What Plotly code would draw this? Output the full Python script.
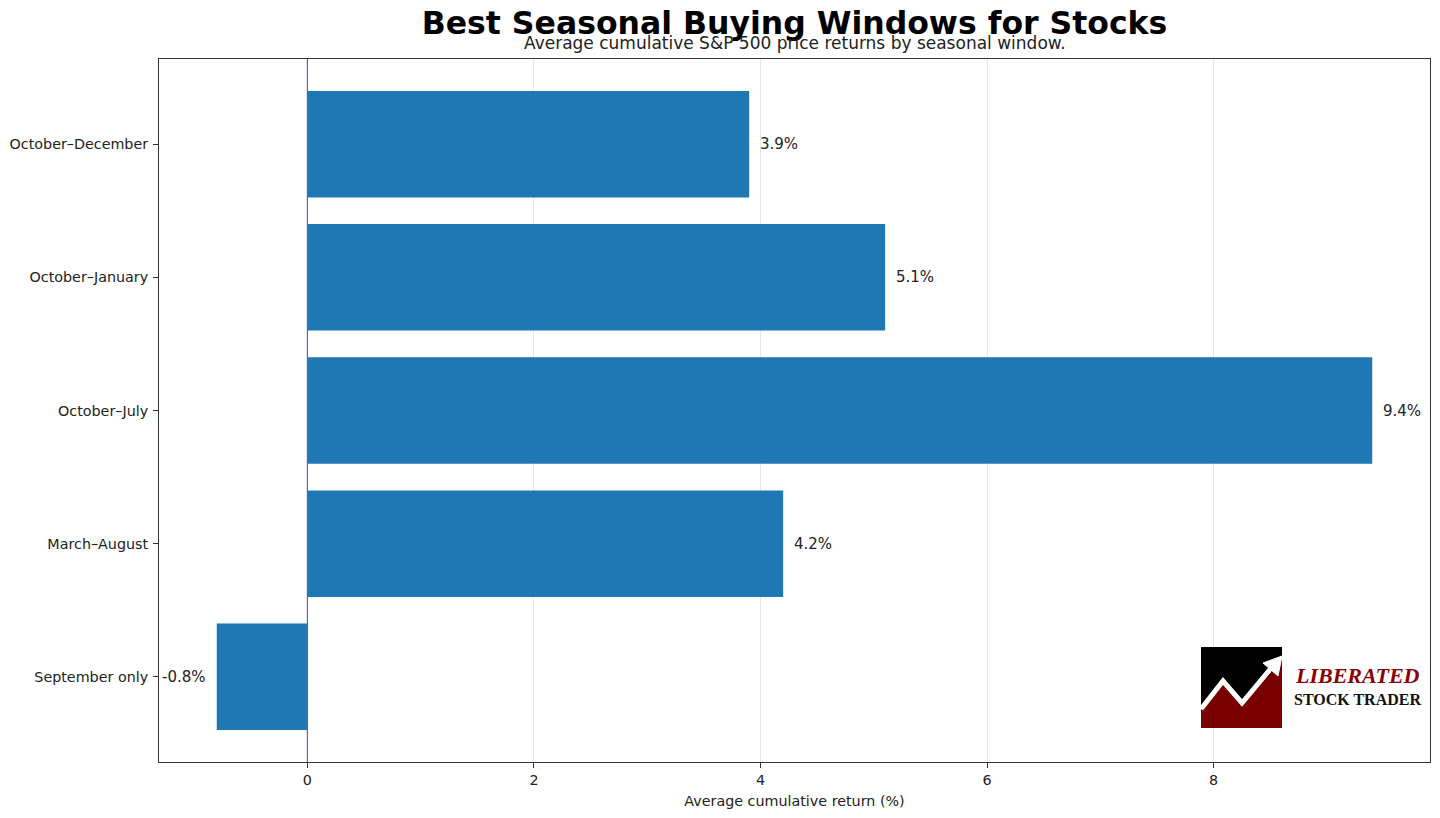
import plotly.graph_objects as go

categories = ["October–December", "October–January", "October–July", "March–August", "September only"]
returns = [3.9, 5.1, 9.4, 4.2, -0.8]
labels = [f"{v:.1f}%" for v in returns]
x_ticks = [0, 2, 4, 6, 8]

W, H = 1440, 818
ML, MR, MT, MB = 159, 10, 59, 56
PW, PH = W - ML - MR, H - MT - MB

def px(x):
    return (x - ML) / PW

def py(y):
    return 1 - (y - MT) / PH

BAR = "#1f77b4"
FONT = "DejaVu Sans, Verdana, sans-serif"

fig = go.Figure()
fig.add_trace(go.Bar(
    x=returns, y=categories, orientation="h",
    marker=dict(color=BAR, line=dict(width=0)),
    width=0.8, hoverinfo="x+y",
))

for c, v, t in zip(categories, returns, labels):
    fig.add_annotation(
        x=v, y=c, xref="x", yref="y", text=t, showarrow=False,
        xanchor="left" if v >= 0 else "right",
        xshift=9 if v >= 0 else -9,
        font=dict(size=15, color="#222222", family=FONT),
    )

# zero line
fig.add_shape(type="line", xref="x", yref="paper", x0=0, x1=0, y0=0, y1=1,
              line=dict(color="#3f74aa", width=1.2), layer="above")

# subtitle
fig.add_annotation(text="Average cumulative S&P 500 price returns by seasonal window.",
                   xref="paper", yref="paper", x=0.5, y=py(43), xanchor="center", yanchor="middle",
                   showarrow=False, font=dict(size=17, color="#222222", family=FONT))

# logo
fig.add_shape(type="rect", xref="paper", yref="paper",
              x0=px(1201), x1=px(1282), y0=py(728), y1=py(647),
              fillcolor="#000000", line=dict(width=0), layer="above")
red_pts = [(1201, 711), (1223, 683), (1242, 705), (1282, 661), (1282, 728), (1201, 728)]
path = "M " + " L ".join(f"{px(a)},{py(b)}" for a, b in red_pts) + " Z"
fig.add_shape(type="path", xref="paper", yref="paper", path=path,
              fillcolor="#7a0000", line=dict(width=0), layer="above")
line_pts = [(1201, 709), (1223, 681), (1242, 703), (1272, 667)]
lpath = "M " + " L ".join(f"{px(a)},{py(b)}" for a, b in line_pts)
fig.add_shape(type="path", xref="paper", yref="paper", path=lpath,
              line=dict(color="#ffffff", width=5), layer="above")
head = [(1263, 663), (1282, 656), (1278, 676)]
hpath = "M " + " L ".join(f"{px(a)},{py(b)}" for a, b in head) + " Z"
fig.add_shape(type="path", xref="paper", yref="paper", path=hpath,
              fillcolor="#ffffff", line=dict(color="#ffffff", width=1), layer="above")
fig.add_annotation(text="<b><i>LIBERATED</i></b>", xref="paper", yref="paper",
                   x=px(1293), y=py(675), xanchor="left", yanchor="middle", showarrow=False,
                   font=dict(size=22, color="#8b0000", family="Liberation Serif, serif"))
fig.add_annotation(text="<b>STOCK TRADER</b>", xref="paper", yref="paper",
                   x=px(1292), y=py(699), xanchor="left", yanchor="middle", showarrow=False,
                   font=dict(size=16, color="#111111", family="Liberation Serif, serif"))

fig.update_layout(
    width=W, height=H,
    margin=dict(l=ML, r=MR, t=MT, b=MB, pad=0),
    paper_bgcolor="white", plot_bgcolor="white",
    font=dict(family=FONT, color="#222222"),
    showlegend=False,
    title=dict(text="<b>Best Seasonal Buying Windows for Stocks</b>",
               x=px(794.5), xref="paper", xanchor="center",
               y=1 - 23 / H, yref="container", yanchor="middle",
               font=dict(size=31.5, color="#000000", family=FONT)),
    xaxis=dict(range=[-1.31, 9.91], tickvals=x_ticks, ticktext=[str(t) for t in x_ticks],
               showgrid=True, gridcolor="rgba(190,190,190,0.4)", gridwidth=1,
               zeroline=False, showline=True, linecolor="#333333", linewidth=1, mirror=True,
               ticks="outside", ticklen=5, tickcolor="#333333",
               tickfont=dict(size=14.3, color="#222222"),
               title=dict(text="Average cumulative return (%)", font=dict(size=14.3, color="#222222"),
                          standoff=8),
               layer="above traces"),
    yaxis=dict(range=[4.64, -0.64], categoryorder="array", categoryarray=categories,
               showgrid=False, zeroline=False, showline=True, linecolor="#333333", linewidth=1,
               mirror=True, ticks="outside", ticklen=5, tickcolor="#333333",
               tickfont=dict(size=14.3, color="#222222"), ticklabelstandoff=2),
)

fig.write_html("out.html")
